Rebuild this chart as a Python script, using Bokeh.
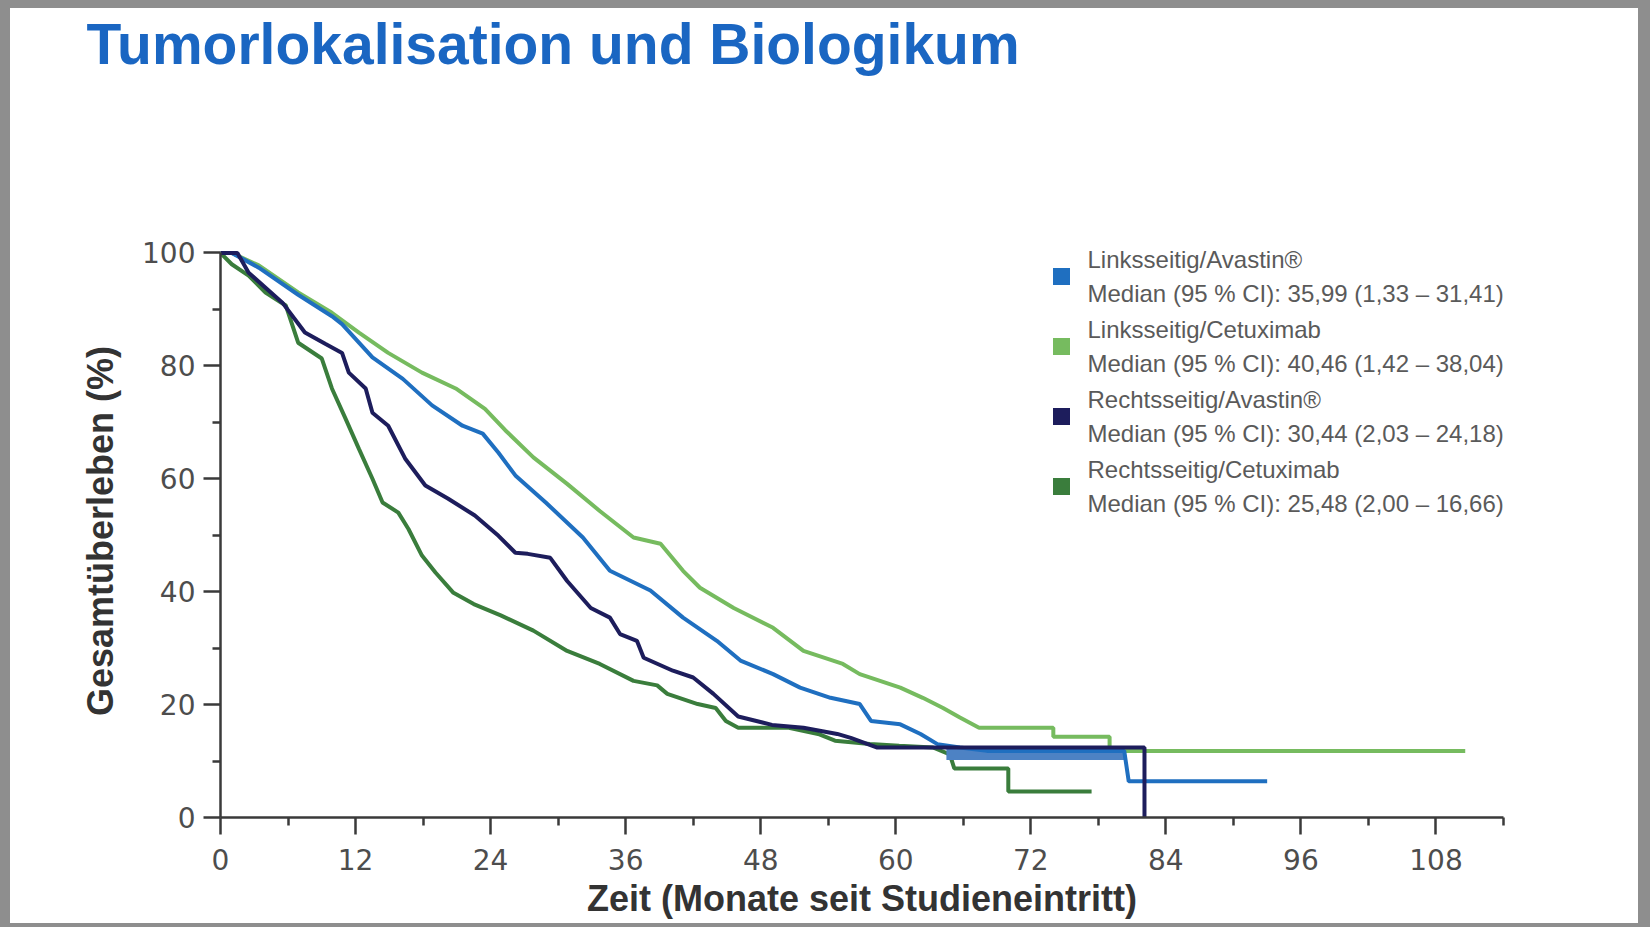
from bokeh.plotting import figure
from bokeh.models import Range1d, FixedTicker, Label, BoxAnnotation, Title
from bokeh.embed import file_html
from bokeh.resources import INLINE

# Overall survival (%) over months since study entry, four groups
la_t = [0, 1, 3.4, 6.9, 9.9, 10.8, 13.5, 16.2, 18.8, 21.5, 23.3, 24.7, 26.2, 28.9, 32.2, 34.6,
        38.2, 41.1, 44.1, 46.2, 49.1, 51.5, 54.2, 56.8, 57.8, 60.4, 62.2, 63.7, 65.7, 68.1,
        80.3, 80.7, 93.0]
la_v = [100, 100, 97.4, 92.6, 88.8, 87.4, 81.5, 77.7, 73.0, 69.4, 68.0, 64.6, 60.6, 55.8, 49.6, 43.7,
        40.2, 35.4, 31.3, 27.8, 25.4, 23.0, 21.2, 20.1, 17.1, 16.5, 14.8, 13.0, 12.4, 11.8,
        11.8, 6.4, 6.4]

lc_t = [0, 1, 3.4, 6.9, 9.9, 12.3, 14.9, 17.9, 20.9, 23.5, 25.3, 27.8, 30.8, 33.7, 36.7, 39.1,
        41.1, 42.6, 45.6, 49.1, 51.8, 55.3, 56.8, 60.4, 62.4, 64.2, 65.7, 67.4, 74.0, 74.0,
        79.0, 79.0, 110.6]
lc_v = [100, 100, 97.8, 93.0, 89.4, 85.9, 82.3, 78.8, 76.0, 72.4, 68.6, 63.8, 59.1, 54.3, 49.6, 48.5,
        43.7, 40.7, 37.1, 33.6, 29.5, 27.2, 25.4, 23.0, 21.2, 19.4, 17.7, 15.9, 15.9, 14.3,
        14.3, 11.8, 11.8]

ra_t = [0, 1.5, 2.5, 5.5, 7.5, 9.3, 10.8, 11.4, 12.9, 13.5, 14.9, 16.4, 18.2, 20.2, 22.6, 24.7,
        26.2, 27.3, 29.3, 30.8, 32.9, 34.6, 35.5, 37.0, 37.6, 40.2, 42.0, 43.8, 46.0, 49.0,
        51.8, 54.8, 56.0, 58.3, 82.1, 82.1]
ra_v = [100, 100, 96.5, 91.2, 85.9, 83.9, 82.3, 78.8, 76.0, 71.7, 69.4, 63.6, 58.8, 56.5, 53.5, 49.9,
        46.9, 46.7, 46.0, 41.9, 37.1, 35.4, 32.5, 31.3, 28.3, 26.0, 24.8, 21.9, 17.9, 16.4,
        15.9, 14.8, 14.1, 12.4, 12.4, 0]

rc_t = [0, 1.0, 2.5, 4.0, 5.8, 6.9, 9.0, 9.9, 11.1, 12.3, 13.5, 14.4, 15.8, 16.7, 17.9, 19.1,
        20.7, 22.5, 24.9, 27.8, 30.8, 33.7, 36.7, 38.8, 39.7, 42.4, 44.0, 44.9, 46.0, 50.5,
        53.1, 54.6, 57.7, 60.3, 63.3, 64.8, 65.2, 70.0, 70.0, 77.4]
rc_v = [100, 98, 96, 93, 90.7, 84.1, 81.3, 76.0, 70.7, 65.3, 60.0, 55.8, 54.0, 51.1, 46.4, 43.4,
        39.8, 37.8, 35.8, 33.1, 29.5, 27.2, 24.2, 23.4, 21.9, 20.1, 19.4, 17.1, 15.9, 15.9,
        14.8, 13.6, 13.0, 12.7, 12.4, 11.2, 8.7, 8.7, 4.6, 4.6]

# overlapping censored steps of the left-sided Avastin group
band_t = [64.5, 80.3]
band_lo = [10.2, 10.2]
band_hi = [12.4, 12.4]

names = ["Linksseitig/Avastin\u00ae", "Linksseitig/Cetuximab",
         "Rechtsseitig/Avastin\u00ae", "Rechtsseitig/Cetuximab"]
medians = ["Median (95 % CI): 35,99 (1,33 \u2013 31,41)",
           "Median (95 % CI): 40,46 (1,42 \u2013 38,04)",
           "Median (95 % CI): 30,44 (2,03 \u2013 24,18)",
           "Median (95 % CI): 25,48 (2,00 \u2013 16,66)"]
colors = ["#1f6fc0", "#76bb5f", "#1d1d5c", "#3a7d3c"]

x_ticks = [0, 12, 24, 36, 48, 60, 72, 84, 96, 108]
x_minor = [6, 18, 30, 42, 54, 66, 78, 90, 102, 114]
y_ticks = [0, 20, 40, 60, 80, 100]
y_minor = [10, 30, 50, 70, 90]

# grey picture frame: top, right, bottom, left widths
FRAME = (8, 12, 4, 10)

p = figure(width=1650, height=927, output_backend="svg", toolbar_location=None, title=None,
           x_range=Range1d(0, 114), y_range=Range1d(0, 101.5),
           min_border_left=220 - FRAME[3], min_border_right=157,
           min_border_top=244 - FRAME[0], min_border_bottom=118)
p.background_fill_color = "white"
p.border_fill_color = "white"
p.outline_line_color = None
p.grid.visible = False
p.styles = {"border-style": "solid", "border-color": "#8e8e8e",
            "border-width": "%dpx %dpx %dpx %dpx" % FRAME}

# blank band between the heading and the chart, then the heading itself
p.add_layout(Title(text=" ", text_font_size="1px", standoff=166), "above")
p.add_layout(Title(text="Tumorlokalisation und Biologikum", align="left", offset=-134,
                   standoff=0, text_font="Liberation Sans", text_font_style="bold",
                   text_font_size="57px", text_color="#1a66c2"), "above")

LW = 4
p.line(lc_t, lc_v, line_color=colors[1], line_width=LW)
p.line(rc_t, rc_v, line_color=colors[3], line_width=LW)
p.varea(x=band_t, y1=band_lo, y2=band_hi, fill_color="#4d82c4")
p.line(la_t, la_v, line_color=colors[0], line_width=LW)
p.line(ra_t, ra_v, line_color=colors[2], line_width=LW)

axis_col = "#3a3a3a"
for ax in (p.xaxis[0], p.yaxis[0]):
    ax.axis_line_color = axis_col
    ax.axis_line_width = 2.5
    ax.major_tick_line_color = axis_col
    ax.major_tick_line_width = 2.5
    ax.minor_tick_line_color = axis_col
    ax.minor_tick_line_width = 2.5
    ax.major_tick_in = 0
    ax.minor_tick_in = 0
    ax.major_tick_out = 17
    ax.minor_tick_out = 8
    ax.major_label_text_font = "DejaVu Sans"
    ax.major_label_text_font_size = "28px"
    ax.major_label_text_color = "#4d4d4d"
    ax.axis_label_text_font = "Liberation Sans"
    ax.axis_label_text_font_style = "bold"
    ax.axis_label_text_font_size = "36px"
    ax.axis_label_text_color = "#333333"

p.xaxis.ticker = FixedTicker(ticks=x_ticks, minor_ticks=x_minor)
p.yaxis.ticker = FixedTicker(ticks=y_ticks, minor_ticks=y_minor)
p.xaxis.bounds = (0, 114)
p.yaxis.bounds = (0, 100)
p.xaxis.axis_label = "Zeit (Monate seit Studieneintritt)"
p.yaxis.axis_label = "Gesamt\u00fcberleben (%)"
p.xaxis.major_label_standoff = 14
p.xaxis.axis_label_standoff = 5
p.yaxis.major_label_standoff = 8
p.yaxis.axis_label_standoff = 18

# legend: colour swatch plus two text lines per group
LEG_X = 841
LEG_Y0 = 541
LEG_DY = 70
for i, (nm, md, col) in enumerate(zip(names, medians, colors)):
    cy = LEG_Y0 - i * LEG_DY
    p.add_layout(BoxAnnotation(left=LEG_X - 8.5, right=LEG_X + 8.5, bottom=cy - 8.5, top=cy + 8.5,
                               left_units="screen", right_units="screen",
                               bottom_units="screen", top_units="screen",
                               fill_color=col, fill_alpha=1.0, line_color=None))
    for txt, dy in ((nm, 17), (md, -17)):
        p.add_layout(Label(x=LEG_X + 26, y=cy + dy, x_units="screen", y_units="screen",
                           text=txt, text_baseline="middle", text_font="Liberation Sans",
                           text_font_size="24px", text_color="#5a5a5a"))

open("out.html", "w").write(file_html(p, INLINE))
